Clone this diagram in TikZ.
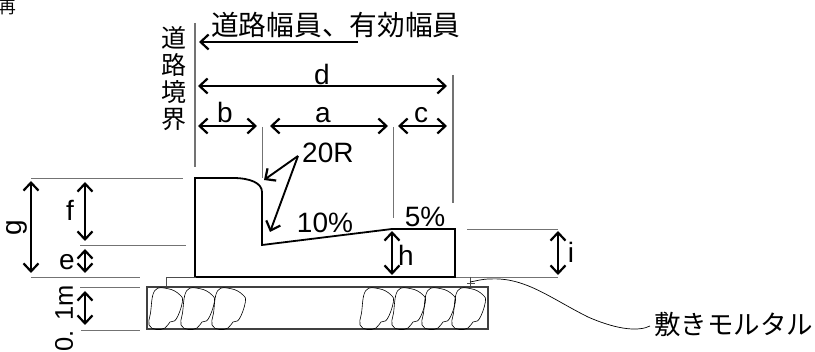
\documentclass[tikz,border=0pt]{standalone}
\usepackage{fontspec}
\setmainfont{Liberation Sans}
\newfontfamily\jpfont{Noto Sans CJK JP}
\usetikzlibrary{arrows.meta}
\tikzset{
  dimline/.style={line width=2pt, black, {Straight Barb[length=8pt,width=15pt,line width=2.2pt]}-{Straight Barb[length=8pt,width=15pt,line width=2.2pt]}},
  leadarrow/.style={line width=1.9pt, black, -{Straight Barb[length=8pt,width=15pt,line width=2.2pt]}},
  extline/.style={line width=0.9pt, black!55},
  curbline/.style={line width=1.8pt, black},
  stoneline/.style={line width=0.6pt, black},
  lbl/.style={inner sep=0pt, font=\fontsize{28}{30}\selectfont},
  jplbl/.style={inner sep=0pt, font=\jpfont\fontsize{27.7}{30}\selectfont}
}
\begin{document}
\begin{tikzpicture}[x=1pt,y=-1pt]
\useasboundingbox (0,0) rectangle (815,352);
\node[inner sep=0pt, anchor=east, font=\jpfont\fontsize{17}{17}\selectfont] (cut) at (16,8) {再};
% road boundary and extension lines
\draw [extline, line width=1.2pt] (195,23) -- (195,167);
\draw [extline] (262,127) -- (262,178);
\draw [extline] (393,127) -- (393,218);
\draw [extline, line width=1.2pt] (453,75) -- (453,203);
\draw [extline] (31,178) -- (183,178);
\draw [extline] (80,245) -- (186,245);
\draw [extline] (31,277) -- (140,277);
\draw [extline] (80,287) -- (140,287);
\draw [extline] (81,330) -- (140,330);
\draw [extline] (467,229) -- (558,229);
\draw [extline] (455,277) -- (558,277);
% curb
\draw [curbline] (195,277) -- (195,178) -- (233,178) .. controls (250,178) and (262,183) .. (262,192) -- (262,245) -- (392,229) -- (455,229) -- (455,277) -- cycle;
% mortar and base
\draw [line width=0.8pt, black!70] (196,277) -- (166,277) -- (166,287);
\draw [line width=0.8pt, black!70] (470,277) -- (470,287);
\draw [line width=0.8pt, black!70] (467,283) -- (475,283);
\draw [line width=1.1pt, black!75] (147,287) rectangle (488,329);
\foreach \xs in {149,181,212,360,392,422,452}
  \draw [stoneline, shift={(\xs,288)}] plot [smooth cycle, tension=0.7] coordinates {(5.7,2.7) (19,0.7) (30.7,6.7) (33.3,14.3) (27.3,31) (21,34) (16,40) (7.3,41.5) (0,37) (1.5,25)};
% dimensions
\draw [leadarrow] (358,42) -- (199,42);
\draw [dimline] (198,86) -- (447,86);
\draw [dimline] (198,126) -- (257,126);
\draw [dimline] (270,126) -- (388,126);
\draw [dimline] (398,126) -- (447,126);
\draw [dimline] (31,181) -- (31,273);
\draw [dimline] (85,182) -- (85,241);
\draw [dimline] (85,249) -- (85,273);
\draw [dimline] (85,291) -- (85,325);
\draw [dimline] (392,231) -- (392,275);
\draw [dimline] (558,231) -- (558,275);
% labels
\node[jplbl, anchor=west] (width) at (211,25) {道路幅員、有効幅員};
\node[jplbl, align=center, font=\jpfont\fontsize{25}{27}\selectfont] (bound) at (174,79) {道\\路\\境\\界};
\node[jplbl, anchor=west, font=\jpfont\fontsize{26.5}{28}\selectfont] (mortar) at (654,324) {敷きモルタル};
\node[lbl] (dlbl) at (322,74) {d};
\node[lbl] (blbl) at (225,112) {b};
\node[lbl] (albl) at (323,115) {a};
\node[lbl] (clbl) at (421,115) {c};
\node[lbl] (flbl) at (70,210) {f};
\node[lbl] (elbl) at (67,262) {e};
\node[lbl, rotate=90] (glbl) at (17,228) {g};
\node[lbl] (hlbl) at (406,255) {h};
\node[lbl] (ilbl) at (571,252) {i};
\node[lbl, rotate=90, font=\fontsize{25.5}{28}\selectfont] (mlbl) at (64,318.5) {0. 1m};
\node[lbl, anchor=west] (rlbl) at (302,153) {20R};
\node[lbl] (slope) at (325,223) {10\%};
\node[lbl] (cross) at (425,217) {5\%};
\draw [leadarrow] (rlbl.west) ++(-4,3) coordinate (rfoot) -- (264,180);
\draw [leadarrow] (rfoot) -- (270,232);
\draw [line width=0.7pt] (mortar.west) ++(-4,2) coordinate (mfoot) .. controls (640,331) and (620,331) .. (588,317) .. controls (550,298) and (525,277) .. (490,279) .. controls (482,279) and (476,281) .. (470,282);
\end{tikzpicture}
\end{document}
